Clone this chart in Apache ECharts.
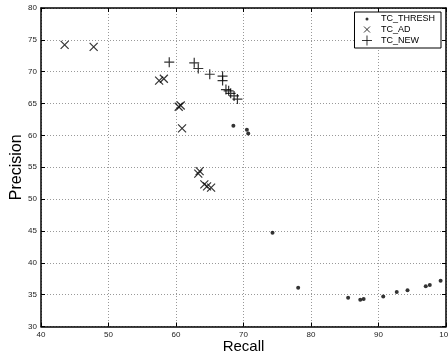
<!DOCTYPE html>
<html><head><meta charset="utf-8">
<script src="https://cdn.jsdelivr.net/npm/echarts@6/dist/echarts.min.js"></script>
<style>html,body{margin:0;padding:0;background:#fff}#c{width:448px;height:358px}</style>
</head><body><div id="c"></div>
<script>
var seriesNames = ['TC_THRESH', 'TC_AD', 'TC_NEW'];
var threshRecall = [68.5, 70.5, 70.7, 74.3, 78.1, 85.5, 87.3, 87.8, 90.7, 92.7, 94.3, 97.0, 97.6, 99.2];
var threshPrecision = [61.5, 60.9, 60.3, 44.7, 36.1, 34.5, 34.2, 34.3, 34.7, 35.4, 35.7, 36.3, 36.5, 37.2];
var adRecall = [43.5, 47.8, 57.5, 58.2, 60.4, 60.7, 60.9, 63.3, 63.5, 64.2, 64.6, 65.2];
var adPrecision = [74.2, 73.9, 68.6, 68.9, 64.5, 64.7, 61.1, 54.0, 54.4, 52.3, 52.0, 51.8];
var newRecall = [59.0, 62.7, 63.3, 65.0, 66.9, 66.9, 67.4, 67.8, 68.1, 68.6, 69.1];
var newPrecision = [71.5, 71.4, 70.5, 69.6, 69.3, 68.6, 67.2, 67.0, 66.6, 66.2, 65.7];
var xTicks = [40, 50, 60, 70, 80, 90, 100];
var yTicks = [30, 35, 40, 45, 50, 55, 60, 65, 70, 75, 80];

function pairs(xs, ys) { return xs.map(function (x, i) { return [x, ys[i]]; }); }

var FONT = '"Liberation Sans", Arial, Helvetica, sans-serif';
var xPath = 'path://M0,0L10,10M10,0L0,10';
var plusPath = 'path://M5,0L5,10M0,5L10,5';
var strokeStyle = { color: 'transparent', borderColor: '#000', borderWidth: 1.2 };

function baseAxis(isX, pos, showLabel) {
  var ticks = isX ? xTicks : yTicks;
  return {
    type: 'value', position: pos,
    min: ticks[0], max: ticks[ticks.length - 1], interval: ticks[1] - ticks[0],
    axisLine: { show: true, onZero: false, lineStyle: { color: '#000', width: 1.5 } },
    axisTick: { show: true, inside: true, length: 4, lineStyle: { color: '#000', width: 1 } },
    axisLabel: { show: showLabel, color: '#222', fontSize: 8, fontFamily: FONT, margin: 4 },
    splitLine: { show: showLabel, lineStyle: { color: '#999', type: [1, 2], width: 1 } }
  };
}

var xa0 = baseAxis(true, 'bottom', true);
xa0.name = 'Recall'; xa0.nameLocation = 'middle'; xa0.nameGap = 13; xa0.nameMoveOverlap = false;
xa0.nameTextStyle = { fontSize: 15, color: '#000', fontFamily: FONT };
var xa1 = baseAxis(true, 'top', false);
var ya0 = baseAxis(false, 'left', true);
ya0.name = 'Precision'; ya0.nameLocation = 'middle'; ya0.nameGap = 16; ya0.nameMoveOverlap = false;
ya0.nameTextStyle = { fontSize: 16, color: '#000', fontFamily: FONT };
var ya1 = baseAxis(false, 'right', false);

var chart = echarts.init(document.getElementById('c'), null, { renderer: 'canvas' });
chart.setOption({
  animation: false,
  backgroundColor: '#fff',
  grid: { left: 41, right: 2, top: 8, bottom: 31.5, containLabel: false, outerBoundsMode: 'none' },
  xAxis: [xa0, xa1],
  yAxis: [ya0, ya1],
  legend: {
    orient: 'vertical', right: 7, top: 12,
    backgroundColor: '#fff', borderColor: '#000', borderWidth: 1,
    padding: [2, 6, 2, 7], itemGap: 0, itemWidth: 10, itemHeight: 10,
    textStyle: { fontSize: 9, color: '#000', fontFamily: FONT, padding: [0, 0, 0, 4] },
    itemStyle: { borderWidth: 1 },
    data: [
      { name: seriesNames[0], icon: 'path://M0,0M10,10M5,3.5A1.5,1.5 0 1 1 5,6.5A1.5,1.5 0 1 1 5,3.5Z', itemStyle: { borderWidth: 0, color: '#000' } },
      { name: seriesNames[1], icon: 'path://M0,0M10,10M2,2L8,8M8,2L2,8' },
      { name: seriesNames[2], icon: 'path://M0,0M10,10M0,5L10,5M5,0L5,10' }
    ]
  },
  series: [
    { name: seriesNames[0], type: 'scatter', xAxisIndex: 0, yAxisIndex: 0,
      symbol: 'circle', symbolSize: 4, itemStyle: { color: '#000' },
      data: pairs(threshRecall, threshPrecision) },
    { name: seriesNames[1], type: 'scatter', xAxisIndex: 0, yAxisIndex: 0,
      symbol: xPath, symbolSize: 8, itemStyle: strokeStyle,
      data: pairs(adRecall, adPrecision) },
    { name: seriesNames[2], type: 'scatter', xAxisIndex: 0, yAxisIndex: 0,
      symbol: plusPath, symbolSize: 10, itemStyle: strokeStyle,
      data: pairs(newRecall, newPrecision) }
  ]
});
</script></body></html>
